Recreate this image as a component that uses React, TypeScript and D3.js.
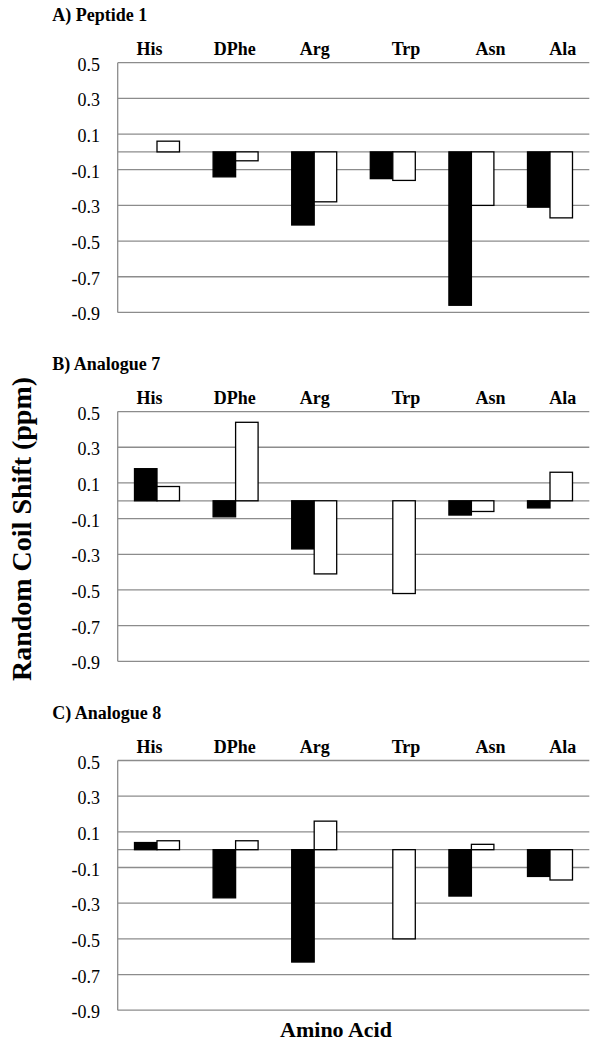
import React from "react";
import * as d3 from "d3";

const categories = ["His", "DPhe", "Arg", "Trp", "Asn", "Ala"];
const panelTitles = ["A) Peptide 1", "B) Analogue 7", "C) Analogue 8"];
const seriesKeys = ["black", "white"];

const peptide1Black = [0, -0.14, -0.41, -0.15, -0.86, -0.31];
const peptide1White = [0.06, -0.05, -0.28, -0.16, -0.3, -0.37];
const analogue7Black = [0.18, -0.09, -0.27, 0, -0.08, -0.04];
const analogue7White = [0.08, 0.44, -0.41, -0.52, -0.06, 0.16];
const analogue8Black = [0.04, -0.27, -0.63, 0, -0.26, -0.15];
const analogue8White = [0.05, 0.05, 0.16, -0.5, 0.03, -0.17];

const tickValues = [0.5, 0.3, 0.1, -0.1, -0.3, -0.5, -0.7, -0.9];
const tickLabels = ["0.5", "0.3", "0.1", "-0.1", "-0.3", "-0.5", "-0.7", "-0.9"];
const gridValues = [0.5, 0.3, 0.1, 0, -0.1, -0.3, -0.5, -0.7, -0.9];

const yTitle = "Random Coil Shift (ppm)";
const xTitle = "Amino Acid";

const panels = [
  { title: panelTitles[0], black: peptide1Black, white: peptide1White },
  { title: panelTitles[1], black: analogue7Black, white: analogue7White },
  { title: panelTitles[2], black: analogue8Black, white: analogue8White },
];

// layout constants
const W = 602;
const H = 1050;
const plotLeft = 117.7;
const plotRight = 589.3;
const firstTop = 62.7;
const panelStep = 348.9;
const plotH = 249.7;
const labelNudge = [-7.4, -0.8, 0.5, 13.2, 19.2, 12.8];
const FONT = "'Liberation Serif', 'Times New Roman', Times, serif";
const GRID = "#8c8c8c";

export default function App() {
  const x0 = d3.scaleBand<string>().domain(categories).range([plotLeft, plotRight]).padding(0);
  const x1 = d3
    .scaleBand<string>()
    .domain(seriesKeys)
    .range([0, x0.bandwidth()])
    .paddingInner(0)
    .paddingOuter(0.747);

  return (
    <svg
      width={W}
      height={H}
      style={{ position: "absolute", left: 0, top: 0, background: "#fff" }}
      fontFamily={FONT}
    >
      <rect x={0} y={0} width={W} height={H} fill="#fff" />
      {panels.map((p, pi) => {
        const top = firstTop + pi * panelStep;
        const y = d3.scaleLinear().domain([-0.9, 0.5]).range([top + plotH, top]);
        return (
          <g key={pi}>
            <text x={52.3} y={top - 42} fontSize={18} fontWeight="bold" fill="#000">
              {p.title}
            </text>
            {categories.map((c, ci) => (
              <text
                key={c}
                x={(x0(c) as number) + x0.bandwidth() / 2 + labelNudge[ci]}
                y={top - 7.4}
                fontSize={18}
                fontWeight="bold"
                textAnchor="middle"
                fill="#000"
              >
                {c}
              </text>
            ))}
            {gridValues.map((v) => (
              <line
                key={v}
                x1={plotLeft}
                x2={plotRight}
                y1={y(v)}
                y2={y(v)}
                stroke={GRID}
                strokeWidth={1.3}
              />
            ))}
            <line
              x1={plotLeft}
              x2={plotLeft}
              y1={y(0.5)}
              y2={y(-0.9)}
              stroke={GRID}
              strokeWidth={1.3}
            />
            {tickValues.map((v, ti) => (
              <text
                key={v}
                x={100}
                y={y(v) + 8}
                fontSize={18}
                textAnchor="end"
                fill="#000"
              >
                {tickLabels[ti]}
              </text>
            ))}
            {categories.map((c, ci) =>
              seriesKeys.map((s) => {
                const v = s === "black" ? p.black[ci] : p.white[ci];
                if (v === 0) return null;
                const bx = (x0(c) as number) + (x1(s) as number);
                const y0 = y(0);
                const yv = y(v);
                return (
                  <rect
                    key={c + s}
                    x={bx}
                    y={Math.min(y0, yv)}
                    width={x1.bandwidth()}
                    height={Math.abs(yv - y0)}
                    fill={s === "black" ? "#000" : "#fff"}
                    stroke="#000"
                    strokeWidth={1.3}
                  />
                );
              })
            )}
          </g>
        );
      })}
      <text
        transform={`translate(31,529) rotate(-90)`}
        fontSize={28}
        fontWeight="bold"
        textAnchor="middle"
        fill="#000"
      >
        {yTitle}
      </text>
      <text x={336} y={1037.3} fontSize={22} fontWeight="bold" textAnchor="middle" fill="#000">
        {xTitle}
      </text>
    </svg>
  );
}
